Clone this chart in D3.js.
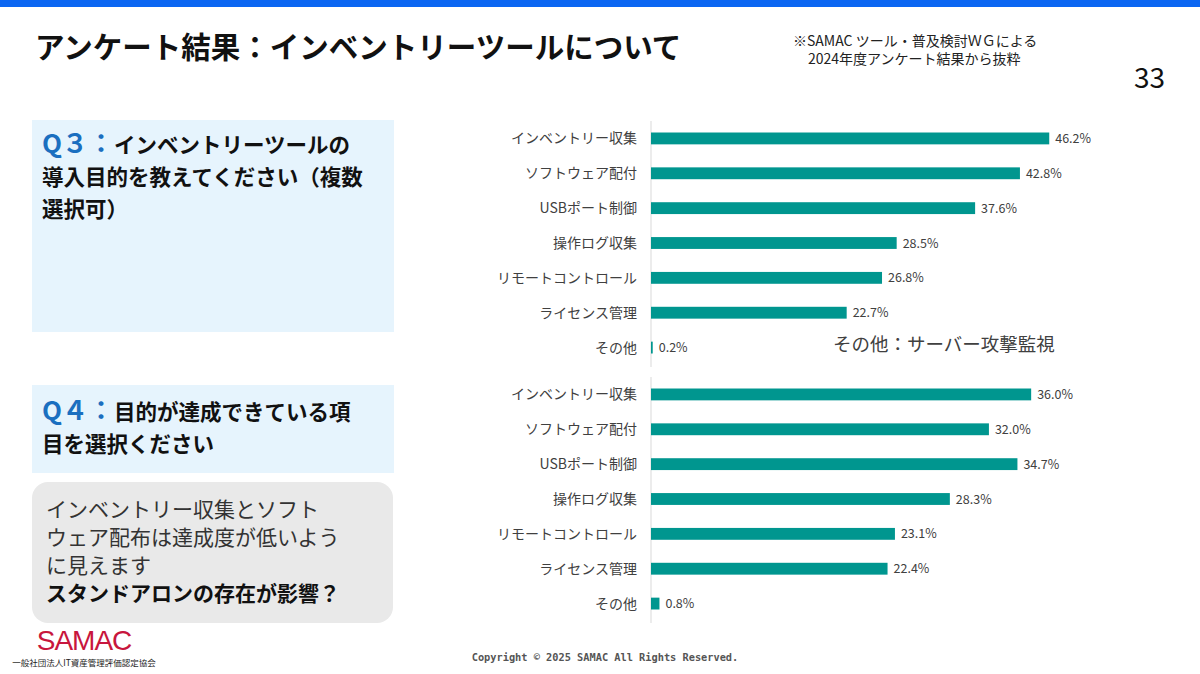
<!DOCTYPE html>
<html><head><meta charset="utf-8">
<script src="https://cdn.jsdelivr.net/npm/d3@7"></script>
<style>body{margin:0;background:#fff}svg{display:block;font-family:"Noto Sans CJK JP","Noto Sans",sans-serif}</style>
</head><body><svg id="c" width="1200" height="674"></svg>
<script>
const categories = ['インベントリー収集','ソフトウェア配付','USBポート制御','操作ログ収集','リモートコントロール','ライセンス管理','その他'];
const q3Values = [46.2, 42.8, 37.6, 28.5, 26.8, 22.7, 0.2];
const q4Values = [36.0, 32.0, 34.7, 28.3, 23.1, 22.4, 0.8];

const svg = d3.select('#c');
const teal = '#00968f';

svg.append('rect').attr('width', 1200).attr('height', 7).attr('fill', '#0b66f2');
svg.append('text').attr('x', 35).attr('y', 58).attr('font-size', 29.5).attr('font-weight', 'bold').attr('fill', '#111')
    .text('アンケート結果：インベントリーツールについて');
svg.append('text').attr('x', 793).attr('y', 46).attr('font-size', 14).attr('fill', '#222').text('※SAMAC ツール・普及検討ＷＧによる');
svg.append('text').attr('x', 808).attr('y', 64).attr('font-size', 14).attr('fill', '#222').text('2024年度アンケート結果から抜粋');
svg.append('text').attr('x', 1165).attr('y', 88).attr('font-size', 28).attr('text-anchor', 'end').attr('fill', '#111').text('33');

// left boxes
svg.append('rect').attr('x', 32).attr('y', 120).attr('width', 362).attr('height', 212).attr('fill', '#e6f4fd');
svg.append('rect').attr('x', 32).attr('y', 385).attr('width', 362).attr('height', 88).attr('fill', '#e6f4fd');
svg.append('rect').attr('x', 32).attr('y', 482).attr('width', 361).attr('height', 141).attr('rx', 16).attr('fill', '#e9e9e9');

function qText(y0, q, lines) {
    let t = svg.append('text').attr('x', 42).attr('y', y0).attr('font-weight', 'bold').attr('fill', '#111');
    t.append('tspan').attr('font-size', 26).attr('fill', '#1a6fc0').text(q);
    t.append('tspan').attr('font-size', 21.5).text(lines[0]);
    lines.slice(1).forEach((l, i) => {
        svg.append('text').attr('x', 42).attr('y', y0 + 32 * (i + 1)).attr('font-size', 21.5)
            .attr('font-weight', 'bold').attr('fill', '#111').text(l);
    });
}
qText(153, 'Q３：', ['インベントリーツールの', '導入目的を教えてください（複数', '選択可）']);
qText(420, 'Q４：', ['目的が達成できている項', '目を選択ください']);

const note = ['インベントリー収集とソフト', 'ウェア配布は達成度が低いよう', 'に見えます'];
note.forEach((l, i) => svg.append('text').attr('x', 46).attr('y', 517 + 28 * i)
    .attr('font-size', 21).attr('fill', '#333').text(l));
svg.append('text').attr('x', 46).attr('y', 601).attr('font-size', 21).attr('font-weight', 'bold')
    .attr('fill', '#111').text('スタンドアロンの存在が影響？');

// charts
function chart(values, top, pxPerPct) {
    const y = d3.scaleBand().domain(categories).range([top, top + 244]).paddingInner(0.66).paddingOuter(0.33);
    const x = d3.scaleLinear().domain([0, 1]).range([651, 651 + pxPerPct]);
    const g = svg.append('g');
    g.append('line').attr('x1', 651).attr('x2', 651).attr('y1', top).attr('y2', top + 246).attr('stroke', '#d9d9d9');
    g.selectAll('rect.bar').data(values).join('rect').attr('class', 'bar')
        .attr('x', x(0)).attr('y', (d, i) => y(categories[i]))
        .attr('width', d => x(d) - x(0)).attr('height', y.bandwidth()).attr('fill', teal);
    g.selectAll('text.val').data(values).join('text').attr('class', 'val')
        .attr('x', d => x(d) + 6).attr('y', (d, i) => y(categories[i]) + y.bandwidth() / 2 + 4.5)
        .attr('font-size', 12.5).attr('fill', '#404040').text(d => d.toFixed(1) + '%');
    g.selectAll('text.cat').data(categories).join('text').attr('class', 'cat')
        .attr('x', 637).attr('y', d => y(d) + y.bandwidth() / 2 + 5).attr('text-anchor', 'end')
        .attr('font-size', 14).attr('fill', '#404040').text(d => d);
}
chart(q3Values, 121, 8.62);
chart(q4Values, 377, 10.56);

svg.append('text').attr('x', 833).attr('y', 351).attr('font-size', 18.5).attr('fill', '#404040').text('その他：サーバー攻撃監視');

// footer
svg.append('text').attr('x', 605).attr('y', 661).attr('text-anchor', 'middle').attr('font-size', 10.3)
    .attr('font-weight', 'bold').attr('font-family', 'DejaVu Sans Mono').attr('fill', '#555').text('Copyright © 2025 SAMAC All Rights Reserved.');
svg.append('text').attr('x', 84).attr('y', 650).attr('text-anchor', 'middle').attr('font-size', 28)
    .attr('font-family', 'Liberation Sans').attr('letter-spacing', -1).attr('fill', '#c8163d').text('SAMAC');
svg.append('text').attr('x', 84).attr('y', 666).attr('text-anchor', 'middle').attr('font-size', 8.5)
    .attr('fill', '#222').text('一般社団法人IT資産管理評価認定協会');
</script></body></html>
